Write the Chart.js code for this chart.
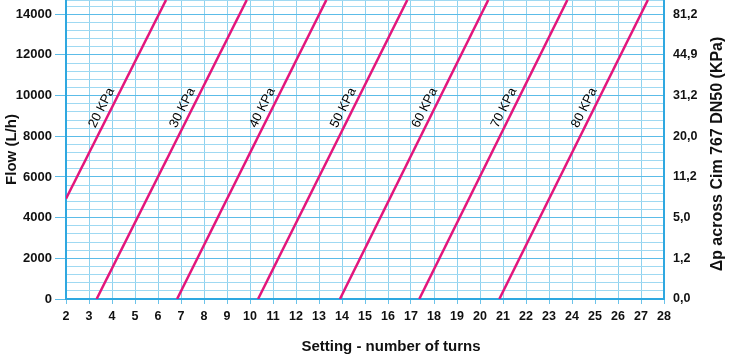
<!DOCTYPE html>
<html>
<head>
<meta charset="utf-8">
<script src="https://cdn.jsdelivr.net/npm/chart.js@4/dist/chart.umd.min.js"></script>
<style>
  body { margin: 0; background: #fff; }
</style>
</head>
<body>
<canvas id="myChart" width="730" height="356"></canvas>
<script>
// one line per pressure drop, start and end point
const lineLabels = ['20 KPa', '30 KPa', '40 KPa', '50 KPa', '60 KPa', '70 KPa', '80 KPa'];
const startX = [2, 3.33, 6.83, 10.35, 13.91, 17.36, 20.84];
const startY = [4930, 0, 0, 0, 0, 0, 0];
const endX = [6.35, 9.86, 13.32, 16.84, 20.36, 23.8, 27.3];
const endY = [14700, 14700, 14700, 14700, 14700, 14700, 14700];

// right axis: pressure drop labels at the flow ticks
const flowTicks = [0, 2000, 4000, 6000, 8000, 10000, 12000, 14000];
const dpLabels = ['0,0', '1,2', '5,0', '11,2', '20,0', '31,2', '44,9', '81,2'];

const FLOW_MAX = 14700;
const FLOW_STEP = 400; // light grid lines between the labelled ones

const FONT = "'Liberation Sans', Arial, Helvetica, sans-serif";
const LINE_COLOR = '#e3167c';
const LABEL_FLOW = 9200;

Chart.defaults.font.family = FONT;
Chart.defaults.color = '#111';

const datasets = lineLabels.map((label, i) => ({
    label: label,
    data: [{x: startX[i], y: startY[i]}, {x: endX[i], y: endY[i]}],
    showLine: true,
    borderColor: LINE_COLOR,
    borderWidth: 2.5,
    pointRadius: 0,
    fill: false
}));

// writes "xx KPa" along each line, plus the titles that chart.js can't place the same way
const textPlugin = {
    id: 'textPlugin',
    afterDatasetsDraw(chart) {
        const ctx = chart.ctx;
        const xs = chart.scales.x, ys = chart.scales.y;
        ctx.save();
        ctx.fillStyle = '#000';
        ctx.font = '13px ' + FONT;
        ctx.textAlign = 'center';
        ctx.textBaseline = 'middle';
        lineLabels.forEach((label, i) => {
            const x = startX[i] + (LABEL_FLOW - startY[i]) * (endX[i] - startX[i]) / (endY[i] - startY[i]);
            const px = xs.getPixelForValue(x), py = ys.getPixelForValue(LABEL_FLOW);
            const ang = Math.atan2(ys.getPixelForValue(endY[i]) - ys.getPixelForValue(startY[i]),
                                   xs.getPixelForValue(endX[i]) - xs.getPixelForValue(startX[i]));
            ctx.save();
            ctx.translate(px, py);
            ctx.rotate(ang);
            ctx.fillText(label, 0, -9);
            ctx.restore();
        });
        ctx.restore();
    },
    afterDraw(chart) {
        const ctx = chart.ctx;
        const ca = chart.chartArea;
        ctx.save();
        ctx.fillStyle = '#111';
        ctx.textAlign = 'center';
        ctx.textBaseline = 'middle';
        ctx.font = 'bold 15px ' + FONT;
        ctx.fillText('Setting - number of turns', 391, 347);
        ctx.font = 'bold 16px ' + FONT;
        ctx.translate(718, 154);
        ctx.rotate(-Math.PI / 2);
        ctx.fillText('\u0394p across Cim 767 DN50 (KPa)', 0, 0);
        ctx.restore();
    }
};

function noPad(scale) {
    scale.paddingTop = 0;
    scale.paddingBottom = 0;
}

// chart.js 4.5 spreads the step evenly up to max, so set the flow ticks by hand
function flowGrid(scale) {
    const t = [];
    for (let v = 0; v < FLOW_MAX; v += FLOW_STEP) t.push({value: v});
    t.push({value: FLOW_MAX});
    scale.ticks = t;
}

const isMajor = v => v % 2000 === 0 && v <= 14000;

new Chart(document.getElementById('myChart'), {
    type: 'scatter',
    data: { datasets: datasets },
    plugins: [textPlugin],
    options: {
        responsive: false,
        animation: false,
        layout: { padding: 0 },
        plugins: { legend: { display: false }, tooltip: { enabled: false } },
        scales: {
            x: {
                type: 'linear',
                min: 2,
                max: 28,
                afterFit: s => { s.height = 57; },
                ticks: { stepSize: 1, autoSkip: false, padding: 5, font: { size: 12.5, weight: 'bold' }, color: '#111' },
                grid: { color: '#8fd2ef', lineWidth: 1, tickLength: 5, tickColor: '#6cc3ea' },
                border: { color: '#2fa8e0', width: 2 }
            },
            y: {
                type: 'linear',
                position: 'left',
                min: 0,
                max: FLOW_MAX,
                afterBuildTicks: flowGrid,
                afterFit: s => { s.width = 66; noPad(s); },
                ticks: {
                    autoSkip: false,
                    padding: 3,
                    font: { size: 13, weight: 'bold' },
                    color: '#111',
                    callback: v => isMajor(v) ? String(v) : ''
                },
                grid: {
                    color: c => c.tick && isMajor(c.tick.value) ? '#5cbce8' : '#9fd9f2',
                    lineWidth: 1,
                    tickLength: 11,
                    tickColor: c => c.tick && isMajor(c.tick.value) ? '#5cbce8' : 'rgba(0,0,0,0)'
                },
                border: { color: '#2fa8e0', width: 2 },
                title: {
                    display: true,
                    text: 'Flow (L/h)',
                    font: { size: 15, weight: 'bold' },
                    color: '#111',
                    padding: { top: 3, bottom: 0 }
                }
            },
            y2: {
                type: 'linear',
                position: 'right',
                min: 0,
                max: FLOW_MAX,
                afterBuildTicks: s => { s.ticks = flowTicks.map(v => ({value: v})); },
                afterFit: s => { s.width = 66; noPad(s); },
                ticks: {
                    autoSkip: false,
                    padding: 9,
                    font: { size: 12.5, weight: 'bold' },
                    color: '#111',
                    callback: v => {
                        const k = flowTicks.indexOf(v);
                        return k >= 0 ? dpLabels[k] : '';
                    }
                },
                grid: { drawOnChartArea: false, drawTicks: false },
                border: { color: '#2fa8e0', width: 2 }
            }
        }
    }
});
</script>
</body>
</html>
